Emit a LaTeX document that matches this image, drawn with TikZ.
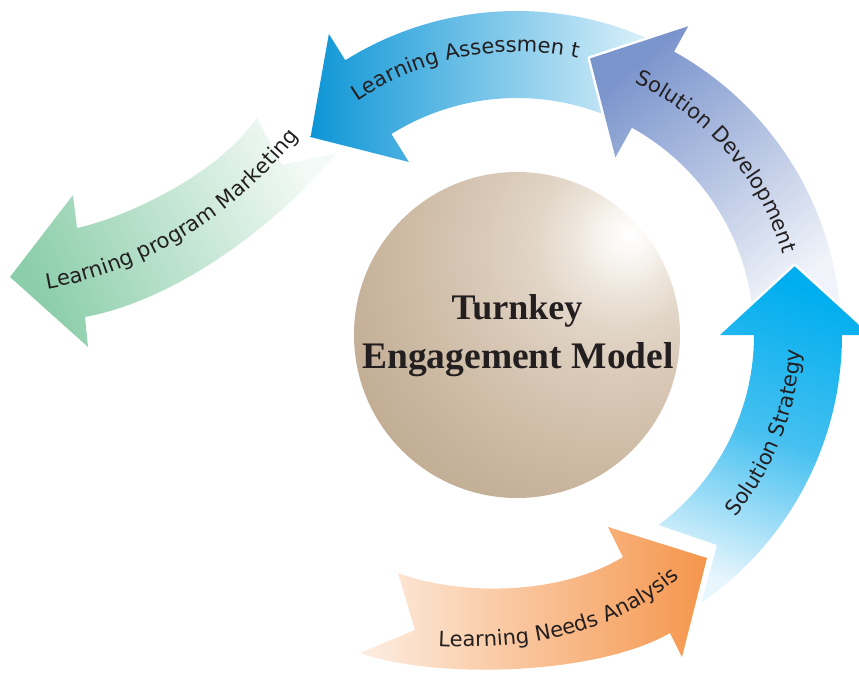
\documentclass[tikz,border=0pt]{standalone}
\usepackage{fontspec}
\setmainfont{DejaVu Sans}
\newfontfamily\titlefont{Liberation Serif}
\usetikzlibrary{decorations.text}

% text
\definecolor{inkdark}{RGB}{35,31,32}
% arrow colours
\definecolor{assessA}{RGB}{14,150,214}
\definecolor{assessB}{RGB}{226,243,251}
\definecolor{devA}{RGB}{122,148,204}
\definecolor{devB}{RGB}{240,243,249}
\definecolor{stratA}{RGB}{0,174,239}
\definecolor{stratM}{RGB}{70,192,240}
\definecolor{stratB}{RGB}{232,246,253}
\definecolor{needsA}{RGB}{253,238,226}
\definecolor{needsB}{RGB}{245,150,76}
\definecolor{mktA}{RGB}{140,206,170}
\definecolor{mktB}{RGB}{244,250,247}
% sphere colours
\definecolor{glA}{RGB}{255,255,255}
\definecolor{glB}{RGB}{250,248,245}
\definecolor{glC}{RGB}{238,230,220}
\definecolor{glD}{RGB}{226,214,200}
\definecolor{glE}{RGB}{216,200,182}
\definecolor{glF}{RGB}{202,183,160}
\definecolor{glG}{RGB}{184,160,134}

% off-centre highlight for the central sphere
% (the sphere edge sits at about 35bp of the shading)
\pgfdeclareradialshading{globe}{\pgfpoint{17.5bp}{15.5bp}}{%
  color(0bp)=(glA); color(3bp)=(glB); color(8bp)=(glC);
  color(13bp)=(glD); color(21bp)=(glE); color(34bp)=(glF);
  color(52bp)=(glG); color(150bp)=(glG)}

\newcommand\labelfont{\fontsize{21}{25}\selectfont}

\begin{document}
\begin{tikzpicture}[x=1pt,y=1pt,
  halo/.style={preaction={draw=white,line width=5pt,line join=round}},
  arclabel/.style={decorate,decoration={text along path,
      text={|\labelfont|#1},text align=center,text color=inkdark}},
  curvelabel/.style={decorate,decoration={text along path,
      text={|\labelfont|#1},text align=left,text color=inkdark}},
  titletext/.style={font=\titlefont\bfseries\fontsize{#1}{40}\selectfont,
      text=inkdark,anchor=base,inner sep=0pt}]
\useasboundingbox (-517,-338) rectangle (342,335);

% central sphere
\shade[shading=globe] (0,0) circle[radius=163];
\node[titletext=36] (title1) at (0,16) {Turnkey};
\node[titletext=37.5] (title2) at (1,-33) {Engagement Model};

% Learning program Marketing (green, notched tail)
\path[top color=mktA,bottom color=mktB,shading angle=115]
  (-440,107) .. controls (-390,118) and (-300,160) .. (-260,217)
  -- (-235,170) -- (-180,182)
  .. controls (-240,110) and (-340,35) .. (-432,18)
  -- (-429,-12) -- (-507,58) -- (-444,140) -- cycle;

% Learning Assessment
\path[left color=assessA,right color=assessB]
  (64:324) arc[start angle=64,end angle=122,radius=324]
  -- (122:355) -- (136.2:286) -- (122:204) -- (122:237)
  arc[start angle=122,end angle=64,radius=237] -- cycle;

% Solution Development
\path[halo,top color=devA,bottom color=devB,shading angle=39]
  (4:324) arc[start angle=4,end angle=61,radius=324]
  -- (61:353) -- (75.2:286) -- (61:203) -- (61:237)
  arc[start angle=61,end angle=4,radius=237] -- cycle;

% Solution Strategy
\path[halo,top color=stratA,bottom color=stratB,middle color=stratM,shading angle=-20]
  (-53.3:237) -- (200,-210) -- (-55.4:325)
  arc[start angle=-55.4,end angle=0,radius=325]
  -- (0:353) -- (13.9:286) -- (0:203) -- (0:237)
  arc[start angle=0,end angle=-53.3,radius=237] -- cycle;

% Learning Needs Analysis (orange, notched tail)
\path[halo,left color=needsA,right color=needsB]
  (-119,-238) .. controls (-60,-260) and (40,-262) .. (106,-222)
  -- (91,-192) -- (190,-223) -- (165,-322) -- (153,-298)
  .. controls (80,-340) and (-80,-345) .. (-157,-318)
  -- (-102,-295) -- cycle;

% labels along the arrows
\path[arclabel={Learning Assessmen t}]
  (150:283) arc[start angle=150,end angle=52,radius=283];
\path[arclabel={Solution Development}]
  (90:278) arc[start angle=90,end angle=-8,radius=278];
\path[arclabel={Solution Strategy}]
  (-60:284) arc[start angle=-60,end angle=17,radius=284];
\path[curvelabel={Learning Needs Analysis}]
  (-79,-311) .. controls (10,-316) and (110,-300) .. (180,-225);
\path[curvelabel={Learning program Marketing}]
  (-470,46) .. controls (-390,60) and (-285,105) .. (-200,222);
\end{tikzpicture}
\end{document}
